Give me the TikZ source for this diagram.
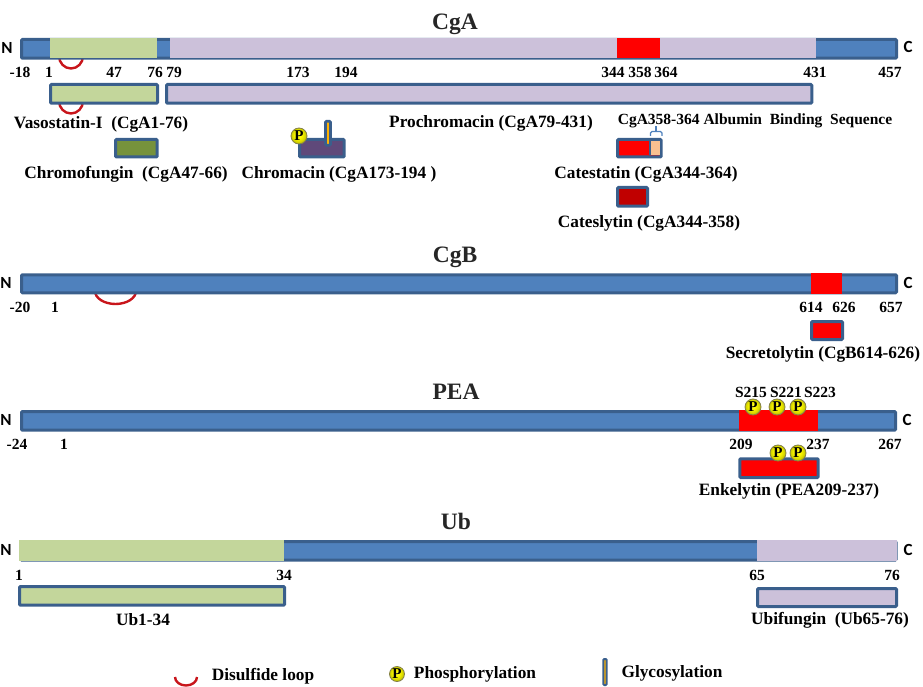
\documentclass[tikz,border=0pt]{standalone}
\usepackage{fontspec}
\setmainfont{Liberation Serif}
\newfontfamily\endfont{Carlito}
\definecolor{barblue}{HTML}{4F81BD}
\definecolor{barline}{HTML}{3A5F8C}
\definecolor{bargreen}{HTML}{C3D69B}
\definecolor{barlilac}{HTML}{CCC1DA}
\definecolor{barolive}{HTML}{76923C}
\definecolor{barplum}{HTML}{5F497A}
\definecolor{barpeach}{HTML}{FAC090}
\definecolor{bardark}{HTML}{C00000}
\definecolor{loopred}{HTML}{C8151B}
\pgfdeclareradialshading{pshade}{\pgfpoint{-3bp}{4bp}}{
  color(0bp)=(yellow!80!white); color(10bp)=(yellow!95!orange); color(20bp)=(yellow!85!black);
  color(30bp)=(yellow!60!black); color(50bp)=(yellow!60!black)}
\tikzset{
  seg/.style={anchor=north west,inner sep=0,outer sep=0,minimum height=#1},
  seg/.default=20pt,
  pep/.style={anchor=north west,inner sep=0,outer sep=0,draw=barline,line width=3pt,rounded corners=1pt,minimum height=18.7pt},
  title/.style={font=\bfseries\fontsize{23.5}{26}\selectfont,text=black!85},
  lab/.style={font=\bfseries\fontsize{17.3}{19}\selectfont,text=black,inner sep=0,yshift=-1.5pt},
  num/.style={font=\bfseries\fontsize{15.5}{17}\selectfont,text=black,inner sep=0},
  term/.style={font=\endfont\bfseries\fontsize{17}{19}\selectfont,inner sep=0},
  pball/.style={circle,inner sep=0,minimum size=16pt,shading=pshade,draw=yellow!45!black,line width=.8pt,font=\bfseries\fontsize{15}{15}\selectfont},
  glyco/.style={draw=barline,line width=2.6pt,rounded corners=1pt,fill=orange!60!yellow,inner sep=0,minimum width=5pt,minimum height=24pt},
  loop/.style={draw=loopred,line width=2.4pt}
}
\begin{document}
\begin{tikzpicture}[x=1pt,y=-1pt]
    \useasboundingbox (0,0) rectangle (923,687);

    % loops sit behind the bars
    \draw[loop] (59,56) arc[start angle=180,end angle=0,x radius=12,y radius=12.5];
    \draw[loop] (59,101) arc[start angle=180,end angle=0,x radius=12,y radius=12.5];
    \draw[loop] (95,291) arc[start angle=180,end angle=0,x radius=20.5,y radius=13];

    % CgA
    \node[title] (titleA) at (455,24) {CgA};
    \node[term] (nA) at (7,48) {N};
    \node[term] (cA) at (908,47) {C};
    \node[pep,fill=barblue,minimum width=875pt] (barA) at (21.5,39.5) {};
    \node[seg=20.5pt,fill=bargreen,minimum width=107pt] (segA1) at (50,38) {};
    \node[seg=20.5pt,fill=barlilac,minimum width=646pt] (segA2) at (170,38) {};
    \node[seg=20.5pt,fill=red,minimum width=43pt] (segA3) at (617,38) {};
    \foreach \x/\t in {20/-18,49/1,114/47,155/76,174/79,298/173,346/194,613/344,640/358,666/364,815/431,890/457}
        \node[num] (numA\t) at (\x,72) {\t};

    \node[pep,fill=bargreen,minimum width=107pt] (vaso) at (50.5,84.5) {};
    \node[pep,fill=barlilac,minimum width=645.3pt] (prochro) at (166.5,84.5) {};
    \node[lab] (vasoL) at (101,123) {Vasostatin-I \ (CgA1-76)};
    \node[lab] (prochroL) at (491,122) {Prochromacin (CgA79-431)};
    \node[lab,font=\bfseries\fontsize{15.5}{17}\selectfont] (albL) at (755,119) {CgA358-364 Albumin \ Binding \ Sequence};

    \node[pep,fill=barolive,minimum width=41.7pt,minimum height=17.5pt] (chromof) at (115.5,139.5) {};
    \node[pep,fill=barplum,minimum width=44.7pt,minimum height=17.5pt] (chroma) at (299.5,139.5) {};
    \node[glyco] (glycoA) at (328,133.3) {};
    \node[pball] (pA) at (299,136) {P};
    \node[lab] (chromofL) at (126,173) {Chromofungin \ (CgA47-66)};
    \node[lab] (chromaL) at (339,173) {Chromacin (CgA173-194 )};

    \node[pep,fill=red,minimum width=43.7pt,minimum height=17.5pt] (cates) at (617.5,139.5) {};
    \node[seg=14.5pt,fill=barpeach,minimum width=10pt] (catesb) at (650,141) {};
    \draw[barline,line width=2pt] (catesb.north west) -- (catesb.south west);
    \coordinate (brL) at (650.5,136);
    \coordinate (brR) at (662,136);
    \draw[barblue,line width=1.3pt,rounded corners=1.5pt] (brL) |- (656,131.5) -| (brR);
    \draw[barblue,line width=1.3pt] (656,131.5) -- (656,126);
    \node[lab] (catesL) at (646,173) {Catestatin (CgA344-364)};
    \node[pep,fill=bardark,minimum width=30pt] (catesl) at (617.5,187.5) {};
    \node[lab] (cateslL) at (649,222) {Cateslytin (CgA344-358)};

    % CgB
    \node[title] (titleB) at (455,257) {CgB};
    \node[term] (nB) at (6,283) {N};
    \node[term] (cB) at (908,283) {C};
    \node[pep,fill=barblue,minimum width=875pt,minimum height=18pt] (barB) at (21.5,274.8) {};
    \node[seg=20.7pt,fill=red,minimum width=31pt] (segB) at (811,273.3) {};
    \foreach \x/\t in {20/-20,55/1,811/614,844/626,891/657}
        \node[num] (numB\t) at (\x,307) {\t};
    \node[pep,fill=red,minimum width=31pt,minimum height=18pt] (secre) at (811.5,321.5) {};
    \node[lab] (secreL) at (823,353) {Secretolytin (CgB614-626)};

    % PEA
    \node[title] (titleP) at (456,392) {PEA};
    \node[term] (nP) at (6,420) {N};
    \node[term] (cP) at (907,420) {C};
    \node[pep,fill=barblue,minimum width=874pt] (barP) at (21.5,411.5) {};
    \node[seg=21pt,fill=red,minimum width=79pt] (segP) at (739,410) {};
    \foreach \x/\t in {17/-24,64/1,741/209,818/237,890/267}
        \node[num] (numP\t) at (\x,444) {\t};
    \foreach \x/\t in {751/S215,786/S221,820/S223}
        \node[num] (site\t) at (\x,392) {\t};
    \foreach \x/\i in {753/1,777/2,798/3}
        \node[pball] (pP\i) at (\x,407) {P};
    \node[pep,fill=red,minimum width=78.4pt] (enke) at (739.8,458.8) {};
    \foreach \x/\i in {778/1,798/2}
        \node[pball] (pE\i) at (\x,453) {P};
    \node[lab] (enkeL) at (789,490) {Enkelytin (PEA209-237)};

    % Ub
    \node[title] (titleU) at (456,521) {Ub};
    \node[term] (nU) at (6,550) {N};
    \node[term] (cU) at (908,550) {C};
    \node[pep,fill=barblue,minimum width=875pt] (barU) at (21,541.5) {};
    \node[seg=20.5pt,fill=bargreen,minimum width=265pt] (segU1) at (19,540) {};
    \node[seg=20.5pt,fill=barlilac,minimum width=140pt] (segU2) at (757,540) {};
    \foreach \x/\t in {19/1,284/34,757/65,892/76}
        \node[num] (numU\t) at (\x,575) {\t};
    \node[pep,fill=bargreen,minimum width=265pt] (ubn) at (19.5,586.5) {};
    \node[pep,fill=barlilac,minimum width=139pt,minimum height=18pt] (ubi) at (757.5,588.5) {};
    \node[lab] (ubnL) at (143,618.5) {Ub1-34};
    \node[lab] (ubiL) at (830,619) {Ubifungin \ (Ub65-76)};

    % legend
    \draw[loop] (175,677) arc[start angle=180,end angle=0,x radius=11,y radius=8.5];
    \node[lab] (legLoop) at (263,675) {Disulfide loop};
    \node[pball,minimum size=15pt] (legP) at (397,674) {P};
    \node[lab] (legPhos) at (475,673) {Phosphorylation};
    \node[glyco,minimum height=26pt,line width=2pt,minimum width=3.4pt] (legG) at (605,672) {};
    \node[lab] (legGly) at (672,672) {Glycosylation};
\end{tikzpicture}
\end{document}
